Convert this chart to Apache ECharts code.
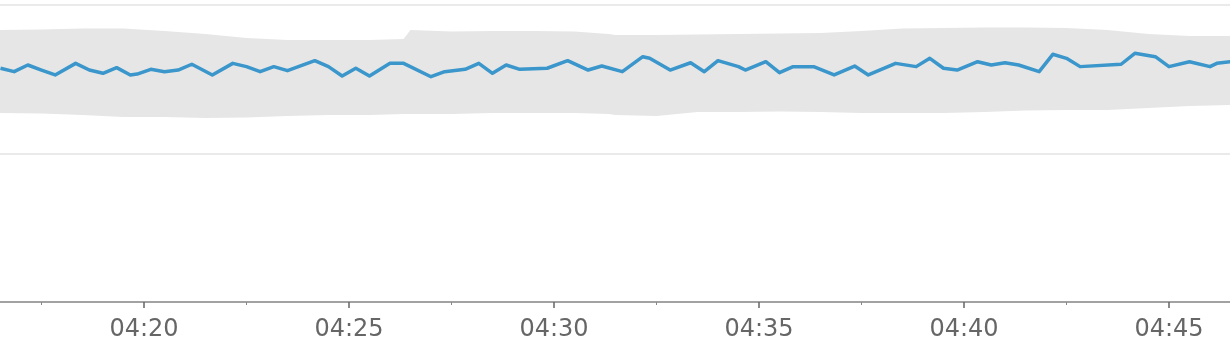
<!DOCTYPE html>
<html>
<head>
<meta charset="utf-8">
<script src="https://cdn.jsdelivr.net/npm/echarts@6/dist/echarts.min.js"></script>
<style>
html,body{margin:0;padding:0;background:#fff;}
#chart{width:1230px;height:342px;}
</style>
</head>
<body>
<div id="chart"></div>
<script>
const lineTimes = ['04:16:30','04:16:50','04:17:10','04:17:30','04:17:50','04:18:20','04:18:40','04:19:00','04:19:20','04:19:40','04:19:50','04:20:10','04:20:30','04:20:50','04:21:10','04:21:40','04:22:10','04:22:30','04:22:50','04:23:10','04:23:30','04:24:10','04:24:30','04:24:50','04:25:10','04:25:30','04:26:00','04:26:20','04:27:00','04:27:20','04:27:50','04:28:10','04:28:30','04:28:50','04:29:10','04:29:50','04:30:20','04:30:50','04:31:10','04:31:40','04:32:10','04:32:20','04:32:50','04:33:20','04:33:40','04:34:00','04:34:30','04:34:40','04:35:10','04:35:30','04:35:50','04:36:20','04:36:30','04:36:50','04:37:20','04:37:40','04:38:20','04:38:50','04:39:10','04:39:30','04:39:50','04:40:20','04:40:40','04:41:00','04:41:20','04:41:50','04:42:10','04:42:30','04:42:50','04:43:50','04:44:10','04:44:40','04:45:00','04:45:30','04:46:00','04:46:10','04:46:30'];
const lineValues = [157.4,155.1,159.6,156.2,152.9,160.7,156.2,154.0,157.8,152.9,153.5,156.7,155.1,156.2,160.1,152.9,160.7,158.5,155.1,158.5,155.8,162.5,158.5,152.2,157.4,152.2,160.7,160.7,151.7,155.1,156.7,160.7,154.0,159.6,156.7,157.4,162.5,156.2,158.9,155.1,165.2,164.1,156.2,161.1,155.1,162.5,158.5,156.2,161.8,154.4,158.5,158.5,156.7,152.9,158.9,152.9,160.7,158.5,164.1,157.4,156.2,161.8,159.6,161.1,159.6,155.1,166.8,164.1,158.5,160.1,167.5,165.2,158.5,161.8,158.5,160.7,161.8];

const bandTimes = ['04:16:29','04:17:30','04:18:30','04:19:30','04:20:30','04:21:30','04:22:30','04:23:30','04:24:30','04:25:30','04:26:20','04:26:30','04:27:30','04:28:30','04:29:30','04:30:30','04:31:20','04:31:30','04:32:30','04:33:30','04:34:30','04:35:30','04:36:30','04:37:30','04:38:30','04:39:30','04:40:30','04:41:30','04:42:30','04:43:30','04:44:30','04:45:30','04:46:30'];
const bandUpper = [183.2,183.5,184.2,184.2,182.5,180.5,177.8,176.4,176.4,176.4,177.1,183.2,182.2,182.5,182.5,182.2,180.5,179.8,179.8,180.1,180.5,180.8,181.1,182.5,184.2,184.5,184.8,184.8,184.5,183.2,180.5,179.1,179.1];
const bandLower = [127.3,126.9,125.9,124.6,124.6,123.9,124.2,125.3,125.9,125.9,126.6,126.6,126.6,127.3,127.3,127.3,126.6,125.9,125.3,128.0,128.0,128.3,128.0,127.3,127.3,127.3,128.0,129.0,129.3,129.3,130.6,132.0,132.7];

const tickLabels = ['04:20','04:25','04:30','04:35','04:40','04:45'];
const minorTickTimes = ['04:17:30','04:22:30','04:27:30','04:32:30','04:37:30','04:42:30'];

const xStart = '04:16:29.3';
const xEnd = '04:46:29.3';

// seconds since midnight
function ts(s){
  const p = s.split(':');
  const sec = p.length > 2 ? parseFloat(p[2]) : 0;
  return (+p[0])*3600 + (+p[1])*60 + sec;
}
function pad(n){return (n<10?'0':'')+n;}
function fmt(v){const h=Math.floor(v/3600), m=Math.floor((v%3600)/60); return pad(h)+':'+pad(m);}

const majorValues = tickLabels.map(ts);
const minorValues = minorTickTimes.map(ts);

const chart = echarts.init(document.getElementById('chart'), null, {renderer:'canvas'});
chart.setOption({
  animation:false,
  grid:{left:0,right:0,top:5,bottom:40,containLabel:false,outerBoundsMode:'none'},
  xAxis:[{
    type:'value',
    min:ts(xStart), max:ts(xEnd),
    z:10,
    axisLine:{show:true,lineStyle:{color:'#8a8a8a',width:1.5}},
    axisTick:{show:true,length:6,customValues:majorValues,lineStyle:{color:'#666',width:1.5}},
    splitLine:{show:false},
    axisLabel:{
      show:true,margin:16,color:'#666',fontSize:24,fontFamily:'DejaVu Sans',
      customValues:majorValues,hideOverlap:false,
      formatter:function(v){return fmt(v);}
    }
  },{
    type:'value',position:'bottom',
    min:ts(xStart), max:ts(xEnd),
    z:10,
    axisLine:{show:false},
    axisTick:{show:true,length:3,customValues:minorValues,lineStyle:{color:'#888',width:1}},
    splitLine:{show:false},
    axisLabel:{show:false}
  }],
  yAxis:{
    type:'value',min:0,max:200,interval:100,
    z:10,
    axisLine:{show:false},axisTick:{show:false},axisLabel:{show:false},
    splitLine:{show:true,lineStyle:{color:'#e3e3e3',width:1.5}}
  },
  series:[
    {type:'line',symbol:'none',silent:true,
     data:bandTimes.map((t,i)=>[ts(t),bandUpper[i]]),
     lineStyle:{width:0,opacity:0},areaStyle:{color:'#e6e6e6',opacity:1},z:1},
    {type:'line',symbol:'none',silent:true,
     data:bandTimes.map((t,i)=>[ts(t),bandLower[i]]),
     lineStyle:{width:0,opacity:0},areaStyle:{color:'#ffffff',opacity:1},z:2},
    {type:'line',symbol:'none',
     data:lineTimes.map((t,i)=>[ts(t),lineValues[i]]),
     lineStyle:{color:'#3a96cb',width:3.5,join:'round'},z:3}
  ]
});
</script>
</body>
</html>
